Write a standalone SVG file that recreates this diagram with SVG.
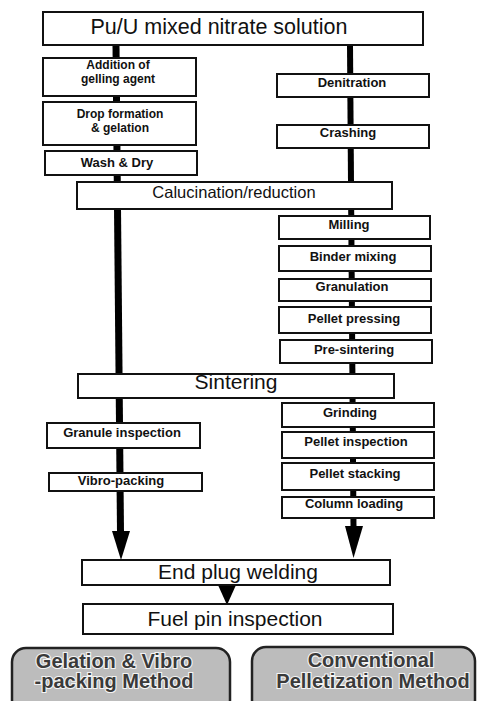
<svg xmlns="http://www.w3.org/2000/svg" width="479" height="701" viewBox="0 0 479 701">
<style>
.b{fill:#fff;stroke:#111;stroke-width:2}
.s{font-family:"Liberation Sans",Arial,sans-serif;font-weight:bold;font-size:13px;fill:#111;text-anchor:middle}
.s2{font-family:"Liberation Sans",Arial,sans-serif;font-weight:bold;font-size:12px;fill:#111;text-anchor:middle}
.l{font-family:"Liberation Sans",Arial,sans-serif;font-size:21px;fill:#111;text-anchor:middle}
.m{font-family:"Liberation Sans",Arial,sans-serif;font-size:16.5px;fill:#111;text-anchor:middle}
.g{fill:#bcbcbc;stroke:#222;stroke-width:2.5}
.gt{font-family:"Liberation Sans",Arial,sans-serif;font-weight:bold;font-size:20px;fill:#3a3a3a;stroke:#f4f4f4;stroke-width:2.2;paint-order:stroke;text-anchor:middle}
.ah{fill:#000}
</style>
<rect width="479" height="701" fill="#fff"/>
<g id="connectors">
<line x1="116" y1="45" x2="120.5" y2="532" stroke="#000" stroke-width="7"/>
<line x1="350" y1="45" x2="353.5" y2="527" stroke="#000" stroke-width="6"/>
<polygon class="ah" points="112,531 130,531 121,560"/>
<polygon class="ah" points="345,526 363,526 353.5,558"/>
<polygon class="ah" points="218,585 236,585 227,605"/>
</g>
<g id="n-top"><rect class="b" x="43" y="12" width="380" height="33"/><text class="l" x="219" y="34" style="font-size:21.5px">Pu/U mixed nitrate solution</text></g>
<g id="n-addition"><rect class="b" x="43" y="58" width="153" height="38"/><text class="s2" x="118" y="69">Addition of</text><text class="s2" x="118" y="83">gelling agent</text></g>
<g id="n-drop"><rect class="b" x="43" y="102" width="153" height="43"/><text class="s2" x="120" y="118">Drop formation</text><text class="s2" x="120" y="132">&amp; gelation</text></g>
<g id="n-wash"><rect class="b" x="45" y="151" width="152" height="24"/><text class="s" x="117" y="167">Wash &amp; Dry</text></g>
<g id="n-calc"><rect class="b" x="77" y="182" width="315" height="27"/><text class="m" x="234" y="198">Calucination/reduction</text></g>
<g id="n-denit"><rect class="b" x="277" y="74" width="152" height="23"/><text class="s" x="352" y="87">Denitration</text></g>
<g id="n-crash"><rect class="b" x="277" y="125" width="152" height="23"/><text class="s" x="348" y="137">Crashing</text></g>
<g id="n-mill"><rect class="b" x="279" y="216" width="151" height="23"/><text class="s" x="349" y="229">Milling</text></g>
<g id="n-binder"><rect class="b" x="279" y="246" width="152" height="25"/><text class="s" x="353" y="261">Binder mixing</text></g>
<g id="n-gran"><rect class="b" x="279" y="279" width="152" height="22"/><text class="s" x="352" y="291">Granulation</text></g>
<g id="n-press"><rect class="b" x="279" y="307" width="152" height="26"/><text class="s" x="354" y="323">Pellet pressing</text></g>
<g id="n-presint"><rect class="b" x="280" y="340" width="152" height="23"/><text class="s" x="354" y="354">Pre-sintering</text></g>
<g id="n-sint"><rect class="b" x="78" y="374" width="316" height="24"/><text class="l" x="236" y="389">Sintering</text></g>
<g id="n-grind"><rect class="b" x="282" y="403" width="152" height="24"/><text class="s" x="350" y="417">Grinding</text></g>
<g id="n-granins"><rect class="b" x="47" y="423" width="153" height="25"/><text class="s" x="122" y="437">Granule inspection</text></g>
<g id="n-pelins"><rect class="b" x="282" y="432" width="152" height="26"/><text class="s" x="356" y="446">Pellet inspection</text></g>
<g id="n-vibro"><rect class="b" x="49" y="473" width="153" height="18"/><text class="s" x="121" y="485">Vibro-packing</text></g>
<g id="n-stack"><rect class="b" x="282" y="463" width="152" height="27"/><text class="s" x="355" y="478">Pellet stacking</text></g>
<g id="n-column"><rect class="b" x="282" y="497" width="152" height="21"/><text class="s" x="354" y="508">Column loading</text></g>
<g id="n-endplug"><rect class="b" x="82" y="560" width="308" height="25"/><text class="l" x="238" y="579">End plug welding</text></g>
<g id="n-fuelpin"><rect class="b" x="83" y="604" width="310" height="30"/><text class="l" x="235" y="626">Fuel pin inspection</text></g>
<g id="n-gelation"><rect class="g" x="12" y="648" width="218" height="66" rx="14"/><text class="gt" x="114" y="668">Gelation &amp; Vibro</text><text class="gt" x="114" y="688">-packing Method</text></g>
<g id="n-conventional"><rect class="g" x="252" y="647" width="223" height="67" rx="14"/><text class="gt" x="371" y="667">Conventional</text><text class="gt" x="373" y="688">Pelletization Method</text></g>
</svg>
